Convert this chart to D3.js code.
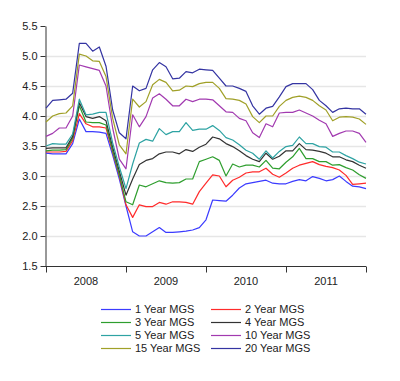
<!DOCTYPE html>
<html><head><meta charset="utf-8">
<script src="https://d3js.org/d3.v7.min.js"></script>
<style>body{margin:0;background:#fff}svg{display:block}text{font-family:Arial,"Liberation Sans",sans-serif}</style>
</head><body>
<script>
const years = ["2008","2009","2010","2011"];
const yTicks = [1.5,2.0,2.5,3.0,3.5,4.0,4.5,5.0,5.5];
const seriesNames = ["1 Year MGS","2 Year MGS","3 Year MGS","4 Year MGS","5 Year MGS","10 Year MGS","15 Year MGS","20 Year MGS"];
const seriesColors = ["#3b3bff","#ff2b2b","#2e9e2e","#333333","#2ea3a3","#a23ab0","#a0a028","#3434a2"];
// monthly observations, Jan 2008 .. Jan 2012
const y1 = [3.38,3.37,3.37,3.37,3.54,3.95,3.74,3.74,3.73,3.71,3.35,2.95,2.5,
  2.07,2.0,2.0,2.07,2.14,2.06,2.06,2.07,2.08,2.1,2.14,
  2.27,2.6,2.59,2.58,2.68,2.8,2.87,2.89,2.91,2.93,2.88,2.87,
  2.87,2.91,2.94,2.92,2.99,2.96,2.92,2.94,3.0,2.91,2.83,2.82,2.79];
const y2 = [3.4,3.4,3.4,3.41,3.59,4.04,3.87,3.82,3.82,3.8,3.4,3.0,2.52,
  2.31,2.52,2.49,2.49,2.56,2.53,2.57,2.57,2.56,2.53,2.74,
  2.88,3.02,3.0,2.82,2.93,2.98,3.05,3.07,3.07,3.13,3.03,2.98,
  3.05,3.13,3.18,3.21,3.24,3.19,3.16,3.14,3.1,3.01,2.86,2.87,2.88];
const y3 = [3.42,3.43,3.43,3.44,3.63,4.17,3.9,3.89,3.89,3.85,3.42,3.02,2.57,
  2.52,2.85,2.82,2.87,2.92,2.89,2.88,2.89,2.95,2.95,3.24,
  3.28,3.32,3.26,3.0,3.2,3.15,3.18,3.18,3.15,3.26,3.13,3.12,
  3.23,3.32,3.46,3.29,3.29,3.24,3.24,3.18,3.19,3.14,3.1,3.02,2.96];
const y4 = [3.46,3.47,3.47,3.47,3.66,4.22,3.99,3.96,3.99,3.92,3.48,3.08,2.68,
  2.95,3.19,3.26,3.29,3.37,3.4,3.4,3.37,3.44,3.41,3.48,
  3.53,3.65,3.62,3.54,3.49,3.42,3.34,3.28,3.24,3.38,3.28,3.33,
  3.42,3.42,3.54,3.44,3.43,3.41,3.38,3.32,3.32,3.27,3.24,3.18,3.13];
const y5 = [3.5,3.54,3.53,3.53,3.7,4.28,4.02,4.03,4.06,4.06,3.55,3.15,2.79,
  3.2,3.55,3.61,3.58,3.79,3.69,3.74,3.74,3.89,3.76,3.78,
  3.78,3.84,3.76,3.64,3.6,3.52,3.43,3.38,3.28,3.42,3.3,3.41,
  3.49,3.51,3.65,3.54,3.54,3.49,3.48,3.4,3.4,3.34,3.29,3.23,3.2];
const y10 = [3.66,3.71,3.8,3.8,4.0,4.85,4.82,4.79,4.76,4.5,3.8,3.28,3.12,
  4.02,3.82,3.99,4.3,4.37,4.28,4.17,4.17,4.28,4.24,4.28,
  4.28,4.27,4.17,4.07,4.06,3.96,3.92,3.72,3.64,3.87,3.82,4.05,
  4.06,4.06,4.1,4.05,4.0,3.93,3.87,3.66,3.71,3.75,3.75,3.71,3.56];
const y15 = [3.9,4.0,4.04,4.05,4.17,5.03,5.0,4.92,4.91,4.66,3.96,3.52,3.37,
  4.28,4.15,4.24,4.52,4.61,4.56,4.42,4.43,4.5,4.49,4.54,
  4.56,4.56,4.46,4.29,4.28,4.26,4.2,3.99,3.89,4.0,4.0,4.16,
  4.26,4.31,4.33,4.31,4.26,4.17,4.1,3.92,3.98,3.99,3.98,3.95,3.86];
const y20 = [4.13,4.26,4.27,4.28,4.38,5.21,5.21,5.08,5.15,4.83,4.1,3.72,3.62,
  4.5,4.42,4.46,4.77,4.89,4.82,4.62,4.63,4.74,4.72,4.78,
  4.77,4.76,4.63,4.5,4.5,4.46,4.41,4.17,4.03,4.13,4.16,4.32,
  4.49,4.54,4.54,4.54,4.44,4.26,4.17,4.06,4.12,4.13,4.12,4.12,4.03];
const seriesValues = [y1,y2,y3,y4,y5,y10,y15,y20];

const W = 400, H = 381;
const svg = d3.select("body").append("svg").attr("width", W).attr("height", H);
svg.append("rect").attr("width", W).attr("height", H).attr("fill", "#fff");

const nPts = y1.length;
const x = d3.scaleLinear().domain([0, nPts - 1]).range([46, 366]);
const y = d3.scaleLinear().domain([1.5, 5.5]).range([266, 26]);

// gridlines
svg.append("g").selectAll("line").data(yTicks.filter(t => t > 1.5 && t < 5.5)).join("line")
  .attr("x1", 45).attr("x2", 366)
  .attr("y1", d => Math.round(y(d)) + 0.5).attr("y2", d => Math.round(y(d)) + 0.5)
  .attr("stroke", "#e6e6e6").attr("stroke-width", 1.5);

// y axis
const yAxis = svg.append("g").attr("transform", "translate(45.5,0)")
  .call(d3.axisLeft(y).tickValues(yTicks).tickFormat(d3.format(".1f")).tickSize(5).tickSizeOuter(0));
yAxis.select(".domain").attr("stroke", "#333");
yAxis.selectAll(".tick line").attr("stroke", "#333");
yAxis.selectAll("text").attr("font-size", 11).attr("fill", "#222").attr("x", -8);

// x axis
const yearTicks = years.map((d, i) => i * 12).concat([years.length * 12]);
const xAxis = svg.append("g").attr("transform", "translate(0,266.5)")
  .call(d3.axisBottom(x).tickValues(yearTicks).tickFormat("").tickSize(6).tickSizeOuter(0));
xAxis.select(".domain").attr("stroke", "#333").attr("d", "M45,0H366");
xAxis.selectAll(".tick line").attr("stroke", "#333");

svg.append("g").selectAll("text").data(years).join("text")
  .attr("x", (d, i) => x(i * 12 + 6)).attr("y", 284.5)
  .attr("text-anchor", "middle").attr("font-size", 11).attr("fill", "#222")
  .text(d => d);

// lines
const line = d3.line().x((d, i) => x(i)).y(d => y(d));
svg.append("g").selectAll("path").data(seriesValues).join("path")
  .attr("d", line).attr("fill", "none")
  .attr("stroke", (d, i) => seriesColors[i]).attr("stroke-width", 1.2)
  .attr("stroke-linejoin", "round");

// legend
const leg = svg.append("g");
seriesNames.forEach((name, i) => {
  const col = i % 2, row = Math.floor(i / 2);
  const lx = col === 0 ? 101 : 211;
  const ly = 309 + row * 13;
  leg.append("line").attr("x1", lx).attr("x2", lx + 30).attr("y1", ly + 0.5).attr("y2", ly + 0.5)
    .attr("stroke", seriesColors[i]).attr("stroke-width", 1.2);
  leg.append("text").attr("x", lx + 34).attr("y", ly + 4).attr("font-size", 11).attr("fill", "#222").text(name);
});
</script>
</body></html>
